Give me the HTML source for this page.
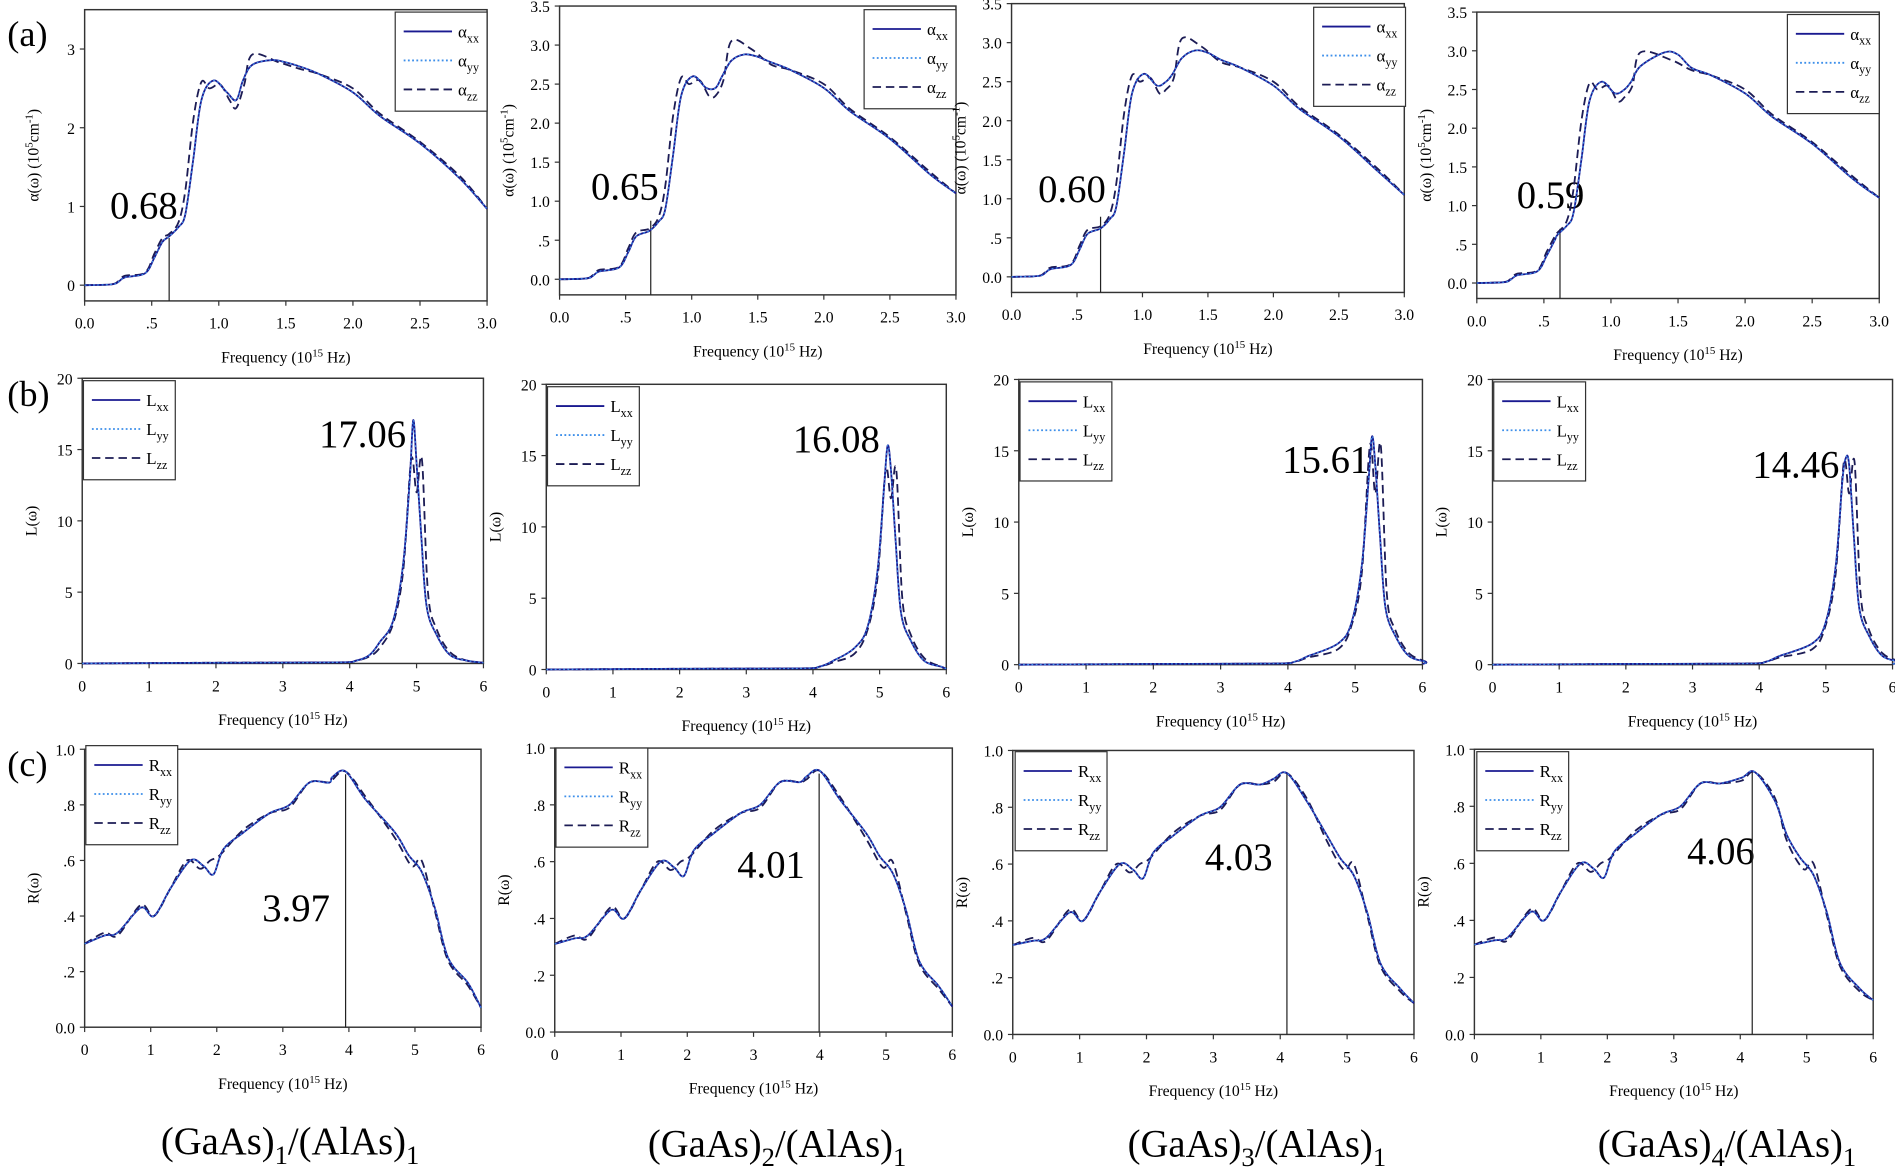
<!DOCTYPE html>
<html><head><meta charset="utf-8"><style>
html,body{margin:0;padding:0;background:#fff;}
svg{display:block;font-family:"Liberation Serif",serif;}
</style></head><body>
<svg id="s" width="1895" height="1168" viewBox="0 0 1568 966.5" xmlns="http://www.w3.org/2000/svg">
<rect width="1568" height="966.5" fill="#fff"/>
<text x="6" y="38" font-size="30">(a)</text>
<text x="6" y="336" font-size="30">(b)</text>
<text x="6" y="642" font-size="30">(c)</text>
<text x="119" y="181" font-size="32" text-anchor="middle">0.68</text>
<text x="517" y="165" font-size="32" text-anchor="middle">0.65</text>
<text x="887" y="167" font-size="32" text-anchor="middle">0.60</text>
<text x="1283" y="172" font-size="32" text-anchor="middle">0.59</text>
<text x="336" y="370" font-size="32" text-anchor="end">17.06</text>
<text x="728" y="374" font-size="32" text-anchor="end">16.08</text>
<text x="1133" y="391" font-size="32" text-anchor="end">15.61</text>
<text x="1522" y="395" font-size="32" text-anchor="end">14.46</text>
<text x="245" y="762" font-size="32" text-anchor="middle">3.97</text>
<text x="638" y="726" font-size="32" text-anchor="middle">4.01</text>
<text x="1025" y="720" font-size="32" text-anchor="middle">4.03</text>
<text x="1424" y="715" font-size="32" text-anchor="middle">4.06</text>
<text x="240" y="955" font-size="32" text-anchor="middle">(GaAs)<tspan font-size="22" dy="8">1</tspan><tspan dy="-8">/(AlAs)</tspan><tspan font-size="22" dy="8">1</tspan></text>
<text x="643" y="957" font-size="32" text-anchor="middle">(GaAs)<tspan font-size="22" dy="8">2</tspan><tspan dy="-8">/(AlAs)</tspan><tspan font-size="22" dy="8">1</tspan></text>
<text x="1040" y="957" font-size="32" text-anchor="middle">(GaAs)<tspan font-size="22" dy="8">3</tspan><tspan dy="-8">/(AlAs)</tspan><tspan font-size="22" dy="8">1</tspan></text>
<text x="1429" y="957" font-size="32" text-anchor="middle">(GaAs)<tspan font-size="22" dy="8">4</tspan><tspan dy="-8">/(AlAs)</tspan><tspan font-size="22" dy="8">1</tspan></text>
</svg>
<script>
var S=document.getElementById('s'),NS='http://www.w3.org/2000/svg';
function el(t,a,txt){var e=document.createElementNS(NS,t);for(var k in a)e.setAttribute(k,a[k]);if(txt!=null)e.textContent=txt;S.appendChild(e);return e;}
function smooth(p){var d='M'+p[0][0].toFixed(1)+','+p[0][1].toFixed(1);for(var i=0;i<p.length-1;i++){var p0=p[i-1]||p[i],p1=p[i],p2=p[i+1],p3=p[i+2]||p2;var c1=[p1[0]+(p2[0]-p0[0])/6,p1[1]+(p2[1]-p0[1])/6],c2=[p2[0]-(p3[0]-p1[0])/6,p2[1]-(p3[1]-p1[1])/6];d+='C'+c1[0].toFixed(1)+','+c1[1].toFixed(1)+' '+c2[0].toFixed(1)+','+c2[1].toFixed(1)+' '+p2[0].toFixed(1)+','+p2[1].toFixed(1);}return d;}
var aX=[[0,'0.0'],[.5,'.5'],[1,'1.0'],[1.5,'1.5'],[2,'2.0'],[2.5,'2.5'],[3,'3.0']];
var aY=[[0,'0.0'],[.5,'.5'],[1,'1.0'],[1.5,'1.5'],[2,'2.0'],[2.5,'2.5'],[3,'3.0'],[3.5,'3.5']];
var aY1=[[0,'0'],[1,'1'],[2,'2'],[3,'3']];
var bX=[[0,'0'],[1,'1'],[2,'2'],[3,'3'],[4,'4'],[5,'5'],[6,'6']];
var bY=[[0,'0'],[5,'5'],[10,'10'],[15,'15'],[20,'20']];
var cY=[[0,'0.0'],[.2,'.2'],[.4,'.4'],[.6,'.6'],[.8,'.8'],[1,'1.0']];
function aS(sh,pk,dip,end,zpk){return {xx:[[0,0],[.2,.01],[.25,.04],[.3,.1],[.45,.15],[.52,.35],[.58,.55],[sh,.62],[sh+.07,.74],[sh+.12,.9],[sh+.18,1.6],[sh+.24,2.35],[sh+.33,2.6],[sh+.43,2.45],[sh+.5,dip],[sh+.55,2.6],[sh+.62,2.8],[1.4,pk],[1.5,pk-.03],[1.6,2.78],[1.75,2.68],[2,2.45],[2.2,2.15],[2.5,1.8],[2.8,1.35],[3,end]],
zz:[[0,0],[.2,.01],[.25,.05],[.3,.12],[.45,.16],[.52,.4],[.58,.6],[sh,.65],[sh+.07,.8],[sh+.12,1.2],[sh+.18,2.1],[sh+.24,2.58],[sh+.3,2.5],[sh+.38,2.55],[sh+.45,2.35],[sh+.5,dip-.1],[sh+.56,2.55],[sh+.62,zpk],[1.45,zpk-.1],[1.6,2.75],[1.75,2.68],[2,2.5],[2.2,2.18],[2.5,1.82],[2.8,1.38],[3,end]]};}
function bS(pk,h,hz){return {xx:[[0,0],[2,.05],[3.8,.08],[4.1,.2],[4.3,.6],[pk-.5,1.5],[pk-.3,3],[pk-.15,7],[pk-.05,13],[pk,h],[pk+.05,14],[pk+.12,9],[pk+.2,4],[pk+.35,2],[pk+.55,.6],[pk+.8,.2],[6,.05]],
zz:[[0,0],[2,.05],[3.8,.08],[4.1,.2],[4.3,.5],[pk-.5,1.1],[pk-.3,2.8],[pk-.15,6.5],[pk-.03,hz],[pk+.05,12],[pk+.13,hz],[pk+.22,5],[pk+.35,2.4],[pk+.55,.8],[pk+.8,.2],[6,.05]]};}
function cS(o,pk,end){return {xx:[[0,.3+o],[.3,.33],[.5,.34],[.85,.43],[1.05,.4],[1.3,.5],[1.6,.6],[1.8,.58],[1.95,.55],[2.1,.64],[2.4,.7],[2.8,.77],[3.1,.8],[3.4,.88],[3.7,.88],[pk-.2,.9],[pk,.92],[pk+.3,.82],[4.7,.7],[4.9,.62],[5.1,.56],[5.3,.43],[5.5,.25],[5.8,.16],[6,end]],
zz:[[0,.3+o],[.3,.34],[.5,.33],[.85,.44],[1.05,.4],[1.3,.5],[1.55,.6],[1.75,.57],[1.9,.6],[2.05,.62],[2.4,.71],[2.8,.77],[3.1,.79],[3.4,.88],[3.7,.88],[pk-.2,.89],[pk,.92],[pk+.3,.83],[4.7,.68],[4.95,.58],[5.1,.6],[5.3,.42],[5.5,.24],[5.8,.15],[6,end]]};}
var P=[
{b:[70,403,8,249],x:[0,3],y:[-.2,3.5],xt:aX,yt:aY1,yl:'a',lg:[327,10,'α'],s:aS(.63,2.86,2.35,.97,2.93),v:[.63,.6]},
{b:[463,791,5,244],x:[0,3],y:[-.2,3.5],xt:aX,yt:aY,yl:'a',lg:[715,8,'α'],s:aS(.68,2.88,2.45,1.1,3.05),v:[.69,.75]},
{b:[837,1162,3,242],x:[0,3],y:[-.2,3.5],xt:aX,yt:aY,yl:'a',lg:[1087,6,'α'],s:aS(.68,2.9,2.5,1.05,3.05),v:[.68,.77]},
{b:[1222,1555,10,247],x:[0,3],y:[-.2,3.5],xt:aX,yt:aY,yl:'a',lg:[1479,12,'α'],s:aS(.6,2.98,2.5,1.1,2.98),v:[.62,.7]},
{b:[68,400,313,549],x:[0,6],y:[0,20],xt:bX,yt:bY,yl:'b',lg:[69,315,'L'],s:bS(4.95,17.06,14.3)},
{b:[452,783,318,554],x:[0,6],y:[0,20],xt:bX,yt:bY,yl:'b',lg:[453,320,'L'],s:bS(5.12,15.7,14)},
{b:[843,1177,314,550],x:[0,6],y:[0,20],xt:bX,yt:bY,yl:'b',lg:[844,316,'L'],s:bS(5.25,16,15.4)},
{b:[1235,1566,314,550],x:[0,6],y:[0,20],xt:bX,yt:bY,yl:'b',lg:[1236,316,'L'],s:bS(5.3,14.5,14.2)},
{b:[70,398,620,850],x:[0,6],y:[0,1],xt:bX,yt:cY,yl:'c',lg:[71,617,'R'],s:cS(0,3.95,.07),v:[3.95,.91]},
{b:[459,788,619,854],x:[0,6],y:[0,1],xt:bX,yt:cY,yl:'c',lg:[460,619,'R'],s:cS(.01,4,.09),v:[3.99,.91]},
{b:[838,1170,621,856],x:[0,6],y:[0,1],xt:bX,yt:cY,yl:'c',lg:[840,622,'R'],s:cS(.015,4.1,.11),v:[4.1,.92]},
{b:[1220,1550,620,856],x:[0,6],y:[0,1],xt:bX,yt:cY,yl:'c',lg:[1222,622,'R'],s:cS(.015,4.22,.12),v:[4.18,.92]}];
P.forEach(function(p){
var b=p.b,X=function(v){return b[0]+(v-p.x[0])/(p.x[1]-p.x[0])*(b[1]-b[0]);},Y=function(v){return b[3]-(v-p.y[0])/(p.y[1]-p.y[0])*(b[3]-b[2]);};
el('rect',{x:b[0],y:b[2],width:b[1]-b[0],height:b[3]-b[2],fill:'none',stroke:'#333','stroke-width':1.2});
p.xt.forEach(function(t){var x=X(t[0]);el('line',{x1:x,x2:x,y1:b[3],y2:b[3]+4,stroke:'#333'});el('text',{x:x,y:b[3]+23,'font-size':13,'text-anchor':'middle'},t[1]);});
p.yt.forEach(function(t){var y=Y(t[0]);el('line',{x1:b[0]-4,x2:b[0],y1:y,y2:y,stroke:'#333'});el('text',{x:b[0]-8,y:y+5,'font-size':13,'text-anchor':'end'},t[1]);});
var xl=el('text',{x:(b[0]+b[1])/2,y:b[3]+51,'font-size':13,'text-anchor':'middle'},'Frequency (10');
var ts=el('tspan',{'font-size':9,dy:-5},'15');xl.appendChild(ts);var t2=el('tspan',{dy:5},' Hz)');xl.appendChild(t2);
var cx=b[0]-38,cy=(b[2]+b[3])/2;
var yl=el('text',{x:cx,y:cy,'font-size':13,'text-anchor':'middle',transform:'rotate(-90 '+cx+' '+cy+')'});
if(p.yl=='a'){yl.textContent='α(ω) (10';var u=el('tspan',{'font-size':9,dy:-5},'5');yl.appendChild(u);var u2=el('tspan',{dy:5},'cm');yl.appendChild(u2);var u3=el('tspan',{'font-size':9,dy:-5},'-1');yl.appendChild(u3);var u4=el('tspan',{dy:5},')');yl.appendChild(u4);}
else if(p.yl=='b')yl.textContent='L(ω)';else yl.textContent='R(ω)';
if(p.v)el('line',{x1:X(p.v[0]),x2:X(p.v[0]),y1:Y(p.v[1]),y2:b[3],stroke:'#222','stroke-width':1});
var m=function(a){return a.map(function(q){return [X(q[0]),Y(q[1])];});};
var dx=m(p.s.xx),dz=m(p.s.zz);
el('path',{d:smooth(dz),fill:'none',stroke:'#1c1c55','stroke-width':1.5,'stroke-dasharray':'7,4'});
el('path',{d:smooth(dx),fill:'none',stroke:'#1a1a90','stroke-width':1.5});
el('path',{d:smooth(dx),fill:'none',stroke:'#3d8fea','stroke-width':1,'stroke-dasharray':'1.5,2'});
var L=p.lg,lx=L[0],ly=L[1];
el('rect',{x:lx,y:ly,width:76,height:82,fill:'#fff',stroke:'#333','stroke-width':1});
var st=[['#1a1a90','', 'xx'],['#3d8fea','1.5,2','yy'],['#1c1c55','7,4','zz']];
st.forEach(function(q,i){var y=ly+16+i*24;el('line',{x1:lx+7,x2:lx+47,y1:y,y2:y,stroke:q[0],'stroke-width':1.5,'stroke-dasharray':q[1]||'none'});
var t=el('text',{x:lx+52,y:y+5,'font-size':14},L[2]);var s=el('tspan',{'font-size':10,dy:4},q[2]);t.appendChild(s);});
});
</script>
</body></html>
